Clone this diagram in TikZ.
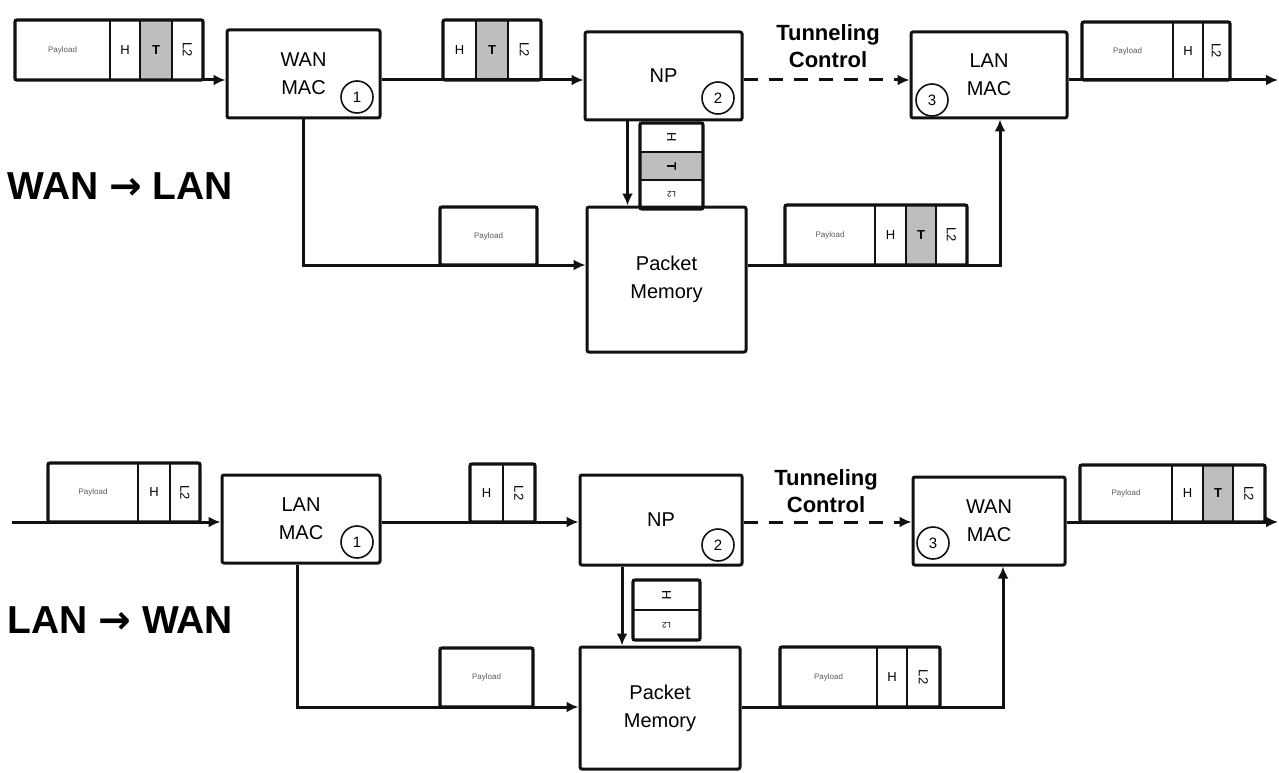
\documentclass[tikz,border=0pt]{standalone}
\usepackage{fontspec}
\setmainfont{Liberation Sans}
\newfontfamily\arrowfont{DejaVu Sans}
\usepackage{tikz}
\usetikzlibrary{positioning,fit,arrows.meta}
\definecolor{figInk}{HTML}{111111}
\definecolor{figShade}{HTML}{BEBEBE}
\definecolor{figText}{HTML}{5A5A5A}
\newcommand{\ltwo}{\rotatebox{-90}{L2}}

\begin{document}
\begin{tikzpicture}[
  % pixel grid: x to the right, y downwards
  x=1pt, y=-1pt,
  block/.style={
    draw=figInk, line width=3pt, rounded corners=2pt,
    inner sep=0pt, align=center,
    font=\fontsize{20}{28}\selectfont
  },
  marker/.style={
    circle, draw=figInk, line width=1.6pt, minimum size=32pt,
    inner sep=0pt, fill=white, font=\fontsize{15}{15}\selectfont
  },
  cell/.style={
    draw=figInk, line width=2pt, minimum height=60pt,
    inner sep=0pt, outer sep=0pt, font=\fontsize{13}{13}\selectfont
  },
  pay/.style={cell, text=figText, font=\fontsize{8}{8}\selectfont},
  shade/.style={fill=figShade},
  frame/.style={draw=figInk, line width=3.2pt, inner sep=0pt, outer sep=0pt, rounded corners=2pt},
  flow/.style={draw=figInk, line width=3pt, -{Latex[length=12pt,width=11pt]}},
  tunnel/.style={flow, dash pattern=on 14pt off 11pt},
  title/.style={anchor=west, font=\fontsize{39}{39}\bfseries\selectfont},
  ctrl/.style={align=center, font=\fontsize{22}{27}\bfseries\selectfont},
]
\useasboundingbox (0,0) rectangle (1279,773);

% --- WAN -> LAN ---
\node[title] (dir1) at (4,186) {WAN {\arrowfont →} LAN};

\node[block, minimum width=153pt, minimum height=88pt] (wmac1) at (303.5,74) {WAN\\MAC};
\node[block, minimum width=157pt, minimum height=88pt] (np1) at (663.5,76) {NP};
\node[block, minimum width=156pt, minimum height=86pt] (lmac1) at (989,75) {LAN\\MAC};
\node[block, minimum width=159pt, minimum height=145pt] (pm1) at (666.5,279.5) {Packet\\Memory};

\node[marker] (n1a) at (357,97) {1};
\node[marker] (n1b) at (718,98) {2};
\node[marker] (n1c) at (932,100) {3};

\node[ctrl] (tc1) at (828,46) {Tunneling\\Control};

% packet into WAN MAC
\node[pay, minimum width=95pt, anchor=south west] (in1-p) at (15,80) {Payload};
\node[cell, minimum width=30pt, right=0pt of in1-p] (in1-h) {H};
\node[cell, shade, minimum width=32pt, right=0pt of in1-h] (in1-t) {\textbf{T}};
\node[cell, minimum width=31pt, right=0pt of in1-t] (in1-l) {\ltwo};
\node[frame, fit=(in1-p)(in1-l)] (in1) {};

% header going to NP
\node[cell, minimum width=33pt, anchor=south west] (mid1-h) at (443,80) {H};
\node[cell, shade, minimum width=32pt, right=0pt of mid1-h] (mid1-t) {\textbf{T}};
\node[cell, minimum width=33pt, right=0pt of mid1-t] (mid1-l) {\ltwo};
\node[frame, fit=(mid1-h)(mid1-l)] (mid1) {};

% packet out of LAN MAC
\node[pay, minimum width=91pt, minimum height=58pt, anchor=south west] (out1-p) at (1082,80) {Payload};
\node[cell, minimum width=30pt, minimum height=58pt, right=0pt of out1-p] (out1-h) {H};
\node[cell, minimum width=27pt, minimum height=58pt, right=0pt of out1-h] (out1-l) {\ltwo};
\node[frame, fit=(out1-p)(out1-l)] (out1) {};
\coordinate (out1-end) at (1278,80);

% payload into memory
\node[pay, minimum width=97pt, minimum height=58pt, anchor=south west] (lo1-p) at (440,265) {Payload};
\node[frame, fit=(lo1-p)] (lo1) {};

% header stack from NP
\node[cell, minimum width=63pt, minimum height=29pt, anchor=north west] (st1-h) at (640,123) {\rotatebox{-90}{H}};
\node[cell, shade, minimum width=63pt, minimum height=28pt, below=0pt of st1-h] (st1-t) {\rotatebox{-90}{\textbf{T}}};
\node[cell, minimum width=63pt, minimum height=29pt, below=0pt of st1-t, font=\fontsize{8}{8}\selectfont] (st1-l) {\rotatebox{180}{L2}};
\node[frame, fit=(st1-h)(st1-l)] (st1) {};

% rebuilt packet out of memory
\node[pay, minimum width=90pt, anchor=south west] (lr1-p) at (785,265) {Payload};
\node[cell, minimum width=31pt, right=0pt of lr1-p] (lr1-h) {H};
\node[cell, shade, minimum width=30pt, right=0pt of lr1-h] (lr1-t) {\textbf{T}};
\node[cell, minimum width=31pt, right=0pt of lr1-t] (lr1-l) {\ltwo};
\node[frame, fit=(lr1-p)(lr1-l)] (lr1) {};

\draw[flow] (in1.south east) -- (wmac1.west |- in1.south east);
\draw[flow] (wmac1.east |- mid1.south) -- (np1.west |- mid1.south);
\draw[tunnel] (np1.east |- mid1.south) -- (lmac1.west |- mid1.south);
\draw[flow] (lmac1.east |- out1.south) -- (out1-end);
\draw[flow] (wmac1.south) |- (pm1.west |- lo1.south);
\draw[flow] ([xshift=-36pt]np1.south) -- ([xshift=-36pt]np1.south |- pm1.north);
\draw[flow] (pm1.east |- lr1.south) -| ([xshift=11pt]lmac1.south);

% --- LAN -> WAN ---
\node[title] (dir2) at (4,620) {LAN {\arrowfont →} WAN};

\node[block, minimum width=158pt, minimum height=88pt] (lmac2) at (301,519) {LAN\\MAC};
\node[block, minimum width=162pt, minimum height=90pt] (np2) at (661,520) {NP};
\node[block, minimum width=152pt, minimum height=88pt] (wmac2) at (989,521) {WAN\\MAC};
\node[block, minimum width=160pt, minimum height=122pt] (pm2) at (660,708) {Packet\\Memory};

\node[marker] (n2a) at (357,542) {1};
\node[marker] (n2b) at (718,545) {2};
\node[marker] (n2c) at (933,543) {3};

\node[ctrl] (tc2) at (826,491) {Tunneling\\Control};

% packet into LAN MAC
\coordinate (src2) at (12,522);
\node[pay, minimum width=90pt, minimum height=59pt, anchor=south west] (in2-p) at (48,522) {Payload};
\node[cell, minimum width=32pt, minimum height=59pt, right=0pt of in2-p] (in2-h) {H};
\node[cell, minimum width=30pt, minimum height=59pt, right=0pt of in2-h] (in2-l) {\ltwo};
\node[frame, fit=(in2-p)(in2-l)] (in2) {};

% header going to NP
\node[cell, minimum width=33pt, minimum height=58pt, anchor=south west] (mid2-h) at (470,522) {H};
\node[cell, minimum width=32pt, minimum height=58pt, right=0pt of mid2-h] (mid2-l) {\ltwo};
\node[frame, fit=(mid2-h)(mid2-l)] (mid2) {};

% packet out of WAN MAC
\node[pay, minimum width=92pt, minimum height=57pt, anchor=south west] (out2-p) at (1080,522) {Payload};
\node[cell, minimum width=31pt, minimum height=57pt, right=0pt of out2-p] (out2-h) {H};
\node[cell, shade, minimum width=30pt, minimum height=57pt, right=0pt of out2-h] (out2-t) {\textbf{T}};
\node[cell, minimum width=32pt, minimum height=57pt, right=0pt of out2-t] (out2-l) {\ltwo};
\node[frame, fit=(out2-p)(out2-l)] (out2) {};
\coordinate (out2-end) at (1278,522);

% payload into memory
\node[pay, minimum width=93pt, minimum height=59pt, anchor=south west] (lo2-p) at (440,707) {Payload};
\node[frame, fit=(lo2-p)] (lo2) {};

% header stack from NP
\node[cell, minimum width=67pt, minimum height=30pt, anchor=north west] (st2-h) at (633,580) {\rotatebox{-90}{H}};
\node[cell, minimum width=67pt, minimum height=30pt, below=0pt of st2-h, font=\fontsize{8}{8}\selectfont] (st2-l) {\rotatebox{180}{L2}};
\node[frame, fit=(st2-h)(st2-l)] (st2) {};

% packet out of memory
\node[pay, minimum width=97pt, anchor=south west] (lr2-p) at (780,707) {Payload};
\node[cell, minimum width=30pt, right=0pt of lr2-p] (lr2-h) {H};
\node[cell, minimum width=33pt, right=0pt of lr2-h] (lr2-l) {\ltwo};
\node[frame, fit=(lr2-p)(lr2-l)] (lr2) {};

\draw[flow] (src2) -- (lmac2.west |- src2);
\draw[flow] (lmac2.east |- mid2.south) -- (np2.west |- mid2.south);
\draw[tunnel] (np2.east |- mid2.south) -- (wmac2.west |- mid2.south);
\draw[flow] (wmac2.east |- out2.south) -- (out2-end);
\draw[flow] ([xshift=-4pt]lmac2.south) |- (pm2.west |- lo2.south);
\draw[flow] ([xshift=-39pt]np2.south) -- ([xshift=-39pt]np2.south |- pm2.north);
\draw[flow] (pm2.east |- lr2.south) -| ([xshift=14pt]wmac2.south);

\end{tikzpicture}
\end{document}
